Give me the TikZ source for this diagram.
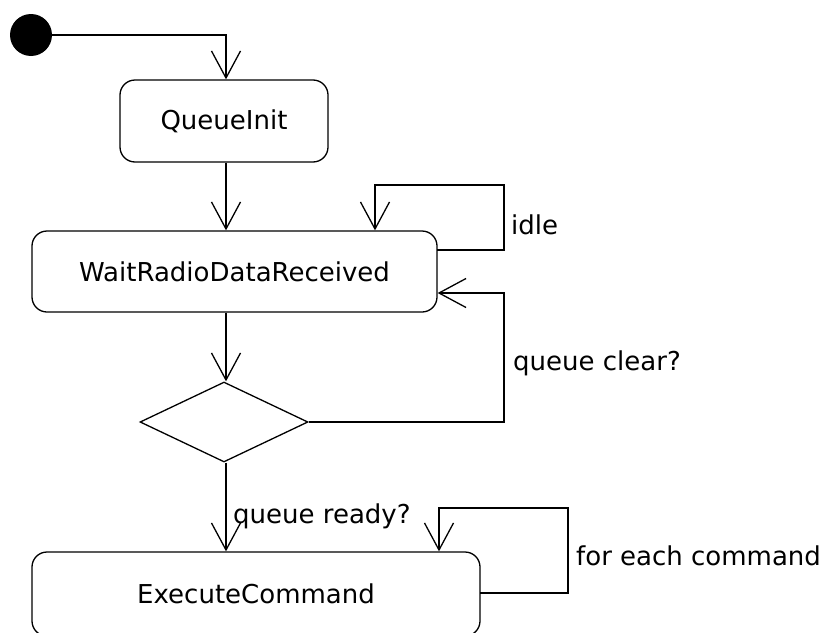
\documentclass[tikz,border=0pt]{standalone}
\usepackage{fontspec}
\setmainfont{DejaVu Sans}
\usetikzlibrary{arrows.meta,shapes.geometric}
\tikzset{
  state/.style={draw, line width=1.3pt, rounded corners=15pt, inner sep=0pt},
  flow/.style={draw, line width=1.3pt, -{Straight Barb[length=27pt,width=29pt,line width=1.3pt]}},
  lbl/.style={anchor=west, inner sep=0pt, font=\fontsize{26}{30}\selectfont},
  txt/.style={font=\fontsize{26}{30}\selectfont},
}
\begin{document}
\begin{tikzpicture}[x=1pt,y=-1pt]
\useasboundingbox (0,0) rectangle (827,632);
\begin{scope}
\clip (0,0) rectangle (827,632);
% initial state
\node[circle, fill=black, minimum size=42pt, inner sep=0pt] (init) at (31,35) {};
% states
\node[state, minimum width=208pt, minimum height=82pt, txt] (qi) at (224,121) {QueueInit};
\node[state, minimum width=405pt, minimum height=81pt, txt] (wr) at (234.5,271.5) {WaitRadioDataReceived};
\node[draw, line width=1.3pt, diamond, minimum width=168pt, minimum height=80pt, inner sep=0pt, aspect=2.1] (dm) at (224,422) {};
\node[state, minimum width=448pt, minimum height=84pt, txt] (ec) at (256,594) {ExecuteCommand};
% column for main flow
\coordinate (col) at (226,0);
\coordinate (c1) at (226,35);
\draw[flow] (init.east) -- (c1) -- (qi.north -| col);
\draw[flow] (qi.south -| col) -- (wr.north -| col);
\draw[flow] (wr.south -| col) -- (dm.north -| col);
\draw[flow] (dm.south -| col) -- (ec.north -| col);
% idle loop
\coordinate (i1) at (437,250);
\coordinate (i2) at (504,250);
\coordinate (i3) at (504,185);
\coordinate (i4) at (375,185);
\draw[flow] (i1) -- (i2) -- (i3) -- (i4) -- (wr.north -| i4);
\node[lbl] (lidle) at (511,225) {idle};
% queue clear loop
\coordinate (q1) at (504,422);
\coordinate (q2) at (504,293);
\draw[flow] (dm.east) -- (q1) -- (q2) -- (wr.east |- q2);
\node[lbl] (lclear) at (513,363) {queue clear?};
\node[lbl] (lready) at (233,516) {queue ready?};
% for each command loop
\coordinate (e1) at (480,593);
\coordinate (e2) at (568,593);
\coordinate (e3) at (568,508);
\coordinate (e4) at (439,508);
\draw[flow] (e1) -- (e2) -- (e3) -- (e4) -- (ec.north -| e4);
\node[lbl] (lfor) at (576,556) {for each command};
\end{scope}
\end{tikzpicture}
\end{document}
